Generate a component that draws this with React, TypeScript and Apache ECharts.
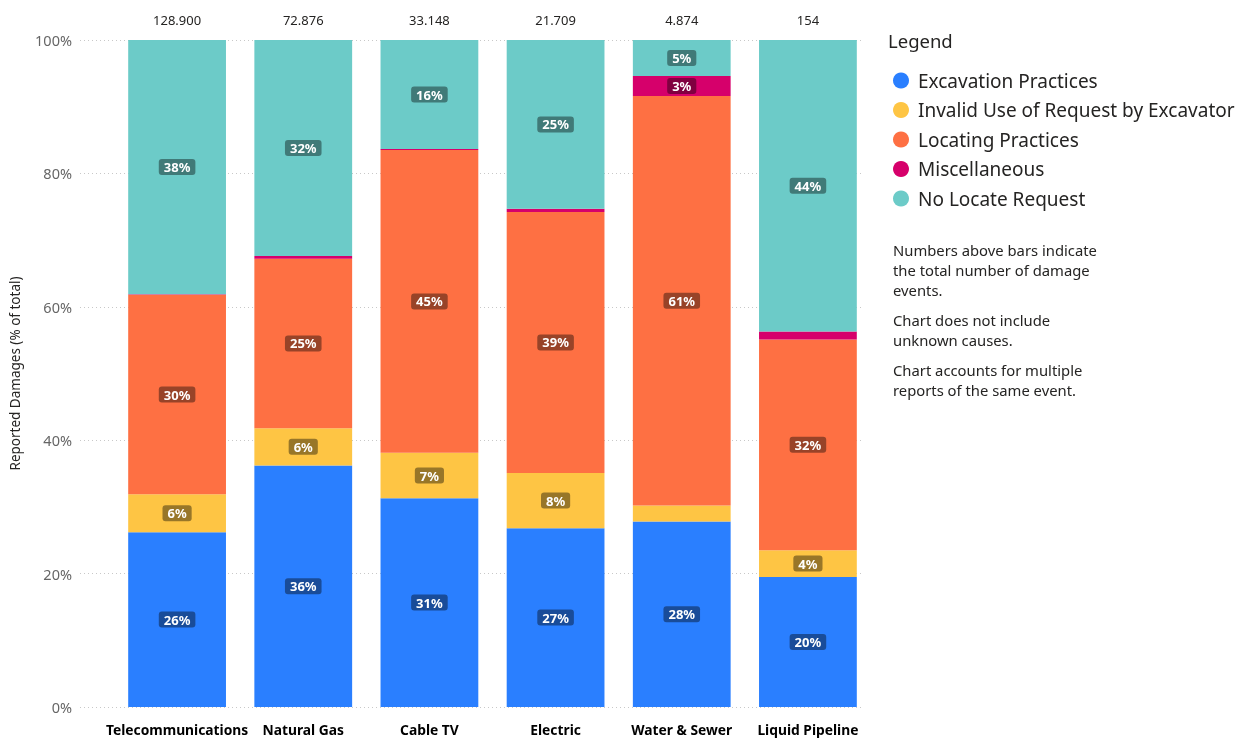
import React, { useEffect, useRef } from "react";
import * as echarts from "echarts";

const categories = ["Telecommunications", "Natural Gas", "Cable TV", "Electric", "Water & Sewer", "Liquid Pipeline"];
const totals = ["128.900", "72.876", "33.148", "21.709", "4.874", "154"];
const seriesNames = [
  "Excavation Practices",
  "Invalid Use of Request by Excavator",
  "Locating Practices",
  "Miscellaneous",
  "No Locate Request",
];
const excavation = [26.2, 36.2, 31.3, 26.8, 27.8, 19.5];
const invalidUse = [5.7, 5.6, 6.8, 8.3, 2.4, 4.0];
const locating = [29.9, 25.4, 45.4, 39.1, 61.4, 31.6];
const misc = [0.1, 0.4, 0.15, 0.5, 3.0, 1.2];
const noLocate = [38.1, 32.4, 16.35, 25.3, 5.4, 43.7];
const colors = ["#2A7FFF", "#FEC544", "#FE7043", "#D6006B", "#6CCBC8"];
const notes = [
  "Numbers above bars indicate\nthe total number of damage\nevents.",
  "Chart does not include\nunknown causes.",
  "Chart accounts for multiple\nreports of the same event.",
];

const FONT = '"Noto Sans", Roboto, sans-serif';

export default function App() {
  const ref = useRef<HTMLDivElement>(null);
  useEffect(() => {
    if (!ref.current) return;
    const chart = echarts.init(ref.current, undefined, { renderer: "svg" });
    const values = [excavation, invalidUse, locating, misc, noLocate];
    const series = values.map((data, i) => ({
      name: seriesNames[i],
      type: "bar",
      stack: "total",
      xAxisIndex: 0,
      yAxisIndex: 0,
      barCategoryGap: "22.5%",
      data: data.map((v) => ({ value: v, label: { show: v >= 2.5 } })),
      itemStyle: { color: colors[i] },
      label: {
        show: true,
        position: "inside",
        formatter: (p: any) => Math.round(p.value) + "%",
        color: "#ffffff",
        fontFamily: FONT,
        fontSize: 13,
        fontWeight: "bold",
        backgroundColor: "rgba(0,0,0,0.4)",
        padding: [2, 5, 1, 5],
        borderRadius: 3,
      },
    }));
    let y = 240;
    const noteGraphics: any[] = notes.map((t) => {
      const g = {
        type: "text",
        left: 893,
        top: y,
        style: { text: t, fontSize: 14.8, lineHeight: 20, fill: "#252423", fontFamily: FONT },
      };
      y += t.split("\n").length * 20 + 10;
      return g;
    });
    chart.setOption({
      animation: false,
      textStyle: { fontFamily: FONT },
      grid: [
        { left: 114, right: 384, top: 40, bottom: 33 },
        { left: 77, right: 393, top: 40, bottom: 33 },
      ],
      xAxis: [
        {
          type: "category",
          gridIndex: 0,
          data: categories,
          axisLine: { show: false },
          axisTick: { show: false },
          axisLabel: { interval: 0, color: "#000000", fontWeight: "bold", fontSize: 13.8, margin: 15, fontFamily: FONT },
        },
        {
          type: "category",
          gridIndex: 0,
          position: "top",
          data: totals,
          axisLine: { show: false },
          axisTick: { show: false },
          axisLabel: { interval: 0, color: "#252423", fontSize: 13, margin: 14, fontFamily: FONT },
        },
        { type: "value", gridIndex: 1, min: 0, max: 1, show: false },
      ],
      yAxis: [
        { type: "value", gridIndex: 0, min: 0, max: 100, interval: 20, show: false },
        {
          type: "value",
          gridIndex: 1,
          min: 0,
          max: 100,
          interval: 20,
          name: "Reported Damages (% of total)",
          nameLocation: "middle",
          nameGap: 58,
          nameTextStyle: { color: "#252423", fontSize: 13.5, fontFamily: FONT },
          axisLine: { show: false },
          axisTick: { show: false },
          axisLabel: { formatter: "{value}%", color: "#666666", fontSize: 14.5, margin: 8, fontFamily: FONT },
          splitLine: { show: true, lineStyle: { color: "#c8c8c8", type: [1, 3], width: 1 } },
        },
      ],
      legend: {
        orient: "vertical",
        left: 893,
        top: 71,
        padding: 0,
        itemWidth: 16,
        itemHeight: 16,
        itemGap: 10.5,
        icon: "circle",
        data: seriesNames,
        textStyle: { fontSize: 19, lineHeight: 19, color: "#252423", fontFamily: FONT, padding: [0, 0, 0, 4] },
      },
      graphic: [
        {
          type: "text",
          left: 888,
          top: 31,
          style: { text: "Legend", fontSize: 18.5, fill: "#252423", fontFamily: FONT },
        },
        ...noteGraphics,
      ],
      series,
    });
    return () => chart.dispose();
  }, []);
  return <div ref={ref} style={{ position: "fixed", left: 0, top: 0, width: 1255, height: 740 }} />;
}
